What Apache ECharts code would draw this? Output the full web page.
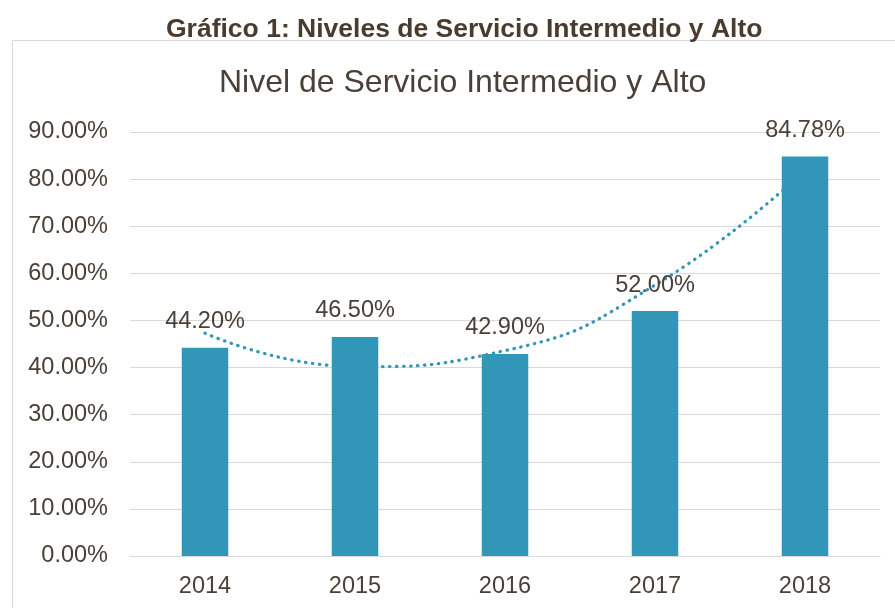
<html>
<head>
<meta charset="UTF-8">
<title>charts</title>
<style>
  html, body { margin: 0; padding: 0; background: #fff; }
  #chart { width: 895px; height: 608px; }
</style>
</head>
<body>
<div id="chart"></div>
<script src="https://cdn.jsdelivr.net/npm/echarts@6/dist/echarts.min.js"></script>
<script>
// datos del grafico
var years = ['2014', '2015', '2016', '2017', '2018'];
var nivel = [44.20, 46.50, 42.90, 52.00, 84.78];
// linea de tendencia (polinomica)
var tendencia = [47.3, 40.2, 43.6, 57.5, 81.9];
var yTicks = [0, 10, 20, 30, 40, 50, 60, 70, 80, 90];

var txtColor = '#4b4038';
var barColor = '#3196b7';

var myChart = echarts.init(document.getElementById('chart'));

var option = {
  animation: false,
  textStyle: { fontFamily: 'Liberation Sans, Arial, sans-serif' },
  title: [
    {
      text: 'Gráfico 1: Niveles de Servicio Intermedio y Alto',
      left: 161, top: 11,
      textStyle: { fontSize: 26.5, fontWeight: 'bold', color: '#4a3b2f', fontFamily: 'Liberation Sans, Arial' }
    },
    {
      text: 'Nivel de Servicio Intermedio y Alto',
      left: 214, top: 62,
      textStyle: { fontSize: 32, fontWeight: 'normal', color: txtColor, fontFamily: 'Liberation Sans, Arial' }
    }
  ],
  graphic: [
    {
      type: 'rect',
      shape: { x: 12.5, y: 40.5, width: 900, height: 600 },
      style: { fill: 'none', stroke: '#d9d9d9', lineWidth: 1 },
      z: -1
    }
  ],
  grid: { left: 130, right: 15, top: 132, bottom: 52 },
  xAxis: {
    type: 'category',
    data: years,
    axisLine: { lineStyle: { color: '#d9d9d9', width: 1 } },
    axisTick: { show: false },
    axisLabel: { color: txtColor, fontSize: 23.5, margin: 19 }
  },
  yAxis: {
    type: 'value',
    min: yTicks[0],
    max: yTicks[yTicks.length - 1],
    interval: 10,
    axisLine: { show: false },
    axisTick: { show: false },
    splitLine: { lineStyle: { color: '#d9d9d9', width: 1 } },
    axisLabel: {
      color: txtColor, fontSize: 23.5, margin: 22,
      formatter: function (v) { return v.toFixed(2) + '%'; }
    }
  },
  series: [
    {
      name: 'Nivel',
      type: 'bar',
      data: nivel,
      barWidth: '31%',
      z: 3,
      itemStyle: { color: barColor },
      label: {
        show: true, position: 'top', distance: 14,
        color: txtColor, fontSize: 23.5,
        formatter: function (p) { return p.value.toFixed(2) + '%'; }
      }
    },
    {
      name: 'Tendencia',
      type: 'line',
      data: tendencia,
      smooth: 0.5,
      symbol: 'none',
      z: 1,
      lineStyle: { color: barColor, width: 3.2, type: [0.5, 6.5], cap: 'round' }
    }
  ]
};

myChart.setOption(option);
</script>
</body>
</html>
